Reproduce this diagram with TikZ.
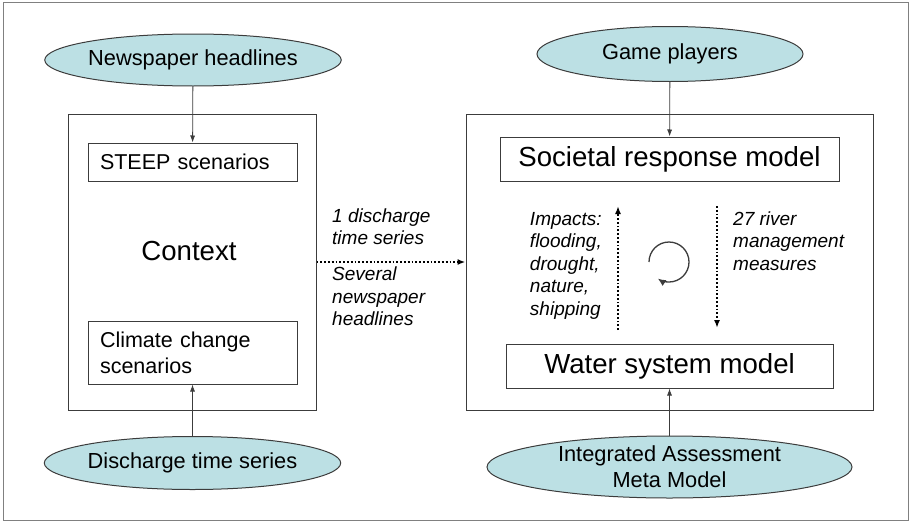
\documentclass[tikz,border=0pt]{standalone}
\usepackage{fontspec}
\setmainfont{Liberation Sans}
\usetikzlibrary{shapes.geometric,arrows.meta}
\definecolor{srcfill}{RGB}{188,224,228}
\definecolor{linegray}{RGB}{60,60,60}
\begin{document}
\begin{tikzpicture}[x=1pt,y=-1pt]
    \tikzstyle{src}=[ellipse,draw=linegray,line width=1pt,fill=srcfill,inner sep=0pt,font=\fontsize{21.8}{26}\selectfont,align=center]
    \tikzstyle{boxe}=[draw=linegray,line width=1pt,inner sep=0pt]
    \tikzstyle{sub}=[draw=linegray,line width=1pt,inner xsep=12pt,inner ysep=0pt,text width=185pt,align=left,font=\fontsize{21.5}{26}\selectfont]
    \tikzstyle{model}=[draw=linegray,line width=1pt,inner sep=0pt,font=\fontsize{27.6}{30}\selectfont]
    \tikzstyle{lbl}=[font=\fontsize{19}{22.5}\selectfont\itshape,inner sep=0pt]
    \tikzstyle{arr}=[linegray,line width=0.8pt,-{Latex[length=7pt,width=5pt]}]
    \tikzstyle{dots}=[line width=1.8pt,dotted,-{Latex[length=8pt,width=6pt]}]

    \useasboundingbox (0,0) rectangle (910,522);
    \draw[gray,line width=1pt] (3.5,2) rectangle (908,520);

    % context side
    \node[boxe,minimum width=248pt,minimum height=296pt] (ctx) at (192,262) {};
    \node[font=\fontsize{27.6}{30}\selectfont] (ctxlbl) at (189,251) {Context};
    \node[sub,minimum height=38pt] (steep) at (192.5,162) {STEEP scenarios};
    \node[sub,minimum height=63pt] (clim) at (192.5,352.5) {Climate change\\scenarios};
    \node[src,minimum width=262pt,minimum height=52pt] (news) at (193,60) {Newspaper headlines};
    \node[src,minimum width=289pt,minimum height=53pt] (disch) at (192.5,463) {Discharge time series};

    % model side
    \node[boxe,minimum width=407pt,minimum height=296pt] (sys) at (669.5,262) {};
    \node[model,minimum width=339pt,minimum height=44pt] (soc) at (669.5,159) {Societal response model};
    \node[model,minimum width=327pt,minimum height=44pt] (water) at (669.5,366) {Water system model};
    \node[src,minimum width=266pt,minimum height=55pt] (game) at (670,54) {Game players};
    \node[src,minimum width=365pt,minimum height=62pt] (iamm) at (669.5,467) {Integrated Assessment\\Meta Model};

    \draw[arr] (news) -- (steep);
    \draw[arr] (disch) -- (clim);
    \draw[arr] (game) -- (soc);
    \draw[arr] (iamm) -- (water);

    % coupling between both sides
    \draw[dots] (ctx.east) -- (sys.west);
    \node[lbl,anchor=north west,align=left] (ts) at (332,208.5) {1 discharge\\time series};
    \node[lbl,anchor=north west,align=left] (hl) at (332,267) {Several\\newspaper\\headlines};

    % loop inside the models box
    \coordinate (upA) at (618,330);
    \coordinate (upB) at (618,206);
    \coordinate (dnA) at (717,206);
    \coordinate (dnB) at (717,328);
    \draw[dots] (upA) -- (upB);
    \draw[dots] (dnA) -- (dnB);
    \node[lbl,anchor=north east,align=left] (imp) at (602,212) {Impacts:\\flooding,\\drought,\\nature,\\shipping};
    \node[lbl,anchor=north west,align=left] (meas) at (733,211.5) {27 river\\management\\measures};
    \coordinate (loop) at (669,262);
    \draw[linegray,line width=1.3pt,-{Latex[length=8pt,width=7pt]}] (loop) ++(180:20) arc[start angle=180,end angle=484,radius=20];
\end{tikzpicture}
\end{document}
